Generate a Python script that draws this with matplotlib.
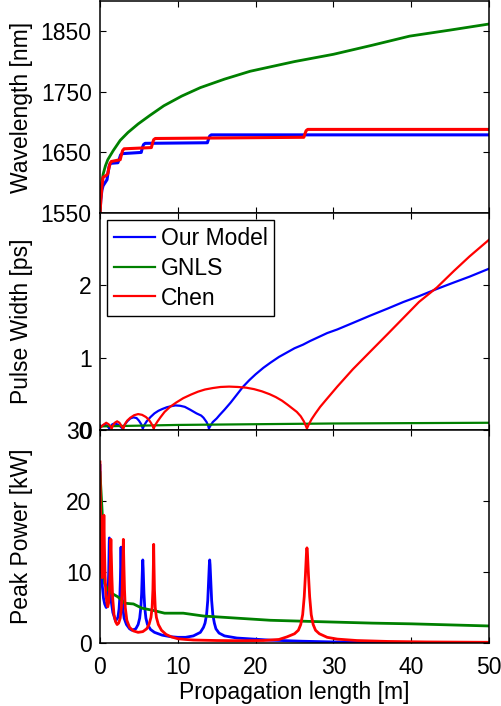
import matplotlib
matplotlib.use('Agg')
import matplotlib.pyplot as plt

plt.rcParams['font.family'] = ['Liberation Sans', 'DejaVu Sans']
plt.rcParams['font.size'] = 16.5

# --- wavelength [nm] vs propagation length [m] ---
z_wl_blue = [0, 0.1, 0.25, 0.4, 0.7, 0.9, 1.05, 1.2, 1.35, 2.3, 2.5, 2.65, 2.85, 5.3, 5.45, 5.6, 5.8,
             13.8, 13.95, 14.1, 14.3, 50]
wl_blue = [1550, 1572, 1588, 1595, 1601, 1605, 1618, 1628, 1632, 1633, 1640, 1646, 1648, 1650, 1658, 1663, 1665,
           1666, 1672, 1677, 1679, 1679]
z_wl_red = [0, 0.1, 0.25, 0.4, 0.8, 1.0, 1.15, 1.3, 1.45, 2.6, 2.75, 2.9, 3.1, 6.6, 6.75, 6.9, 7.1,
            26.2, 26.35, 26.5, 26.7, 50]
wl_red = [1550, 1570, 1595, 1609, 1612, 1615, 1625, 1632, 1635, 1638, 1646, 1653, 1656, 1658, 1665, 1671, 1673,
          1675, 1681, 1686, 1688, 1688]
z_wl_green = [0, 0.1, 0.2, 0.4, 0.7, 1.0, 1.7, 2.6, 3.6, 4.9, 6.4, 8.2, 10.5, 12.9, 16, 19.3, 25, 30, 35,
              39.8, 45, 50]
wl_green = [1550, 1578, 1597, 1614, 1628, 1638, 1653, 1670, 1683, 1697, 1711, 1727, 1743, 1757, 1771, 1784,
            1800, 1812, 1827, 1842, 1852, 1862]

# --- pulse width [ps] ---
z_pw_blue = [0, 0.3, 0.6, 0.9, 1.1, 1.2, 1.35, 1.6, 1.9, 2.3, 2.6, 2.8, 2.95,
             3.15, 3.5, 3.9, 4.3, 4.7, 5.0, 5.3, 5.5,
             5.7, 6.0, 6.5, 7.0, 7.5, 8.0, 8.6, 9.2, 9.7, 10.3, 10.9, 11.6, 12.4, 13.0, 13.3, 13.7, 13.9, 14.0,
             14.2, 14.5, 15.0, 15.4, 16.0, 16.8, 17.6, 18.4, 19.2, 20.0, 21.0, 21.9, 23.0, 24.0, 25.0,
             26.1, 27.0, 28.0, 29.2, 30.5, 32.5, 34.7, 37.0, 39.0, 41.0, 43.3, 45.5, 47.5, 50]
pw_blue = [0.03, 0.06, 0.075, 0.06, 0.035, 0.02, 0.05, 0.08, 0.09, 0.075, 0.05, 0.03, 0.02,
           0.07, 0.12, 0.16, 0.175, 0.165, 0.13, 0.08, 0.02,
           0.07, 0.12, 0.18, 0.23, 0.265, 0.29, 0.315, 0.33, 0.34, 0.335, 0.32, 0.28, 0.23, 0.2, 0.17,
           0.11, 0.06, 0.02,
           0.06, 0.11, 0.16, 0.21, 0.28, 0.38, 0.49, 0.6, 0.69, 0.77, 0.86, 0.93, 1.01, 1.07, 1.13,
           1.18, 1.23, 1.28, 1.34, 1.39, 1.48, 1.58, 1.68, 1.77, 1.85, 1.95, 2.04, 2.12, 2.23]
z_pw_red = [0, 0.4, 0.8, 1.1, 1.35, 1.5, 1.65, 1.9, 2.2, 2.5, 2.75, 2.9, 3.0,
            3.2, 3.5, 3.9, 4.4, 4.9, 5.4, 5.9, 6.3, 6.6, 6.8, 6.9,
            7.1, 7.4, 7.8, 8.3, 9.0, 9.8, 10.7, 11.7, 12.6, 13.5, 14.5, 15.5, 16.6, 17.7, 18.8, 19.8,
            20.8, 21.8, 22.6, 23.4, 24.1, 24.7, 25.3, 25.8, 26.2, 26.45, 26.6,
            26.8, 27.2, 27.7, 28.3, 29.0, 30.5, 32.5, 34.7, 37.0, 39.0, 41.0, 43.3, 45.5, 47.5, 50]
pw_red = [0.03, 0.07, 0.1, 0.08, 0.05, 0.02, 0.06, 0.1, 0.12, 0.1, 0.06, 0.03, 0.02,
          0.08, 0.13, 0.17, 0.205, 0.22, 0.21, 0.18, 0.14, 0.09, 0.05, 0.02,
          0.07, 0.12, 0.18, 0.25, 0.32, 0.38, 0.44, 0.49, 0.53, 0.56, 0.58, 0.595, 0.6, 0.595, 0.585,
          0.565, 0.535, 0.495, 0.455, 0.405, 0.35, 0.3, 0.25, 0.19, 0.12, 0.06, 0.02,
          0.07, 0.15, 0.23, 0.32, 0.41, 0.6, 0.84, 1.08, 1.33, 1.55, 1.77, 1.97, 2.2, 2.4, 2.63]
z_pw_green = [0, 5, 10, 20, 30, 40, 50]
pw_green = [0.05, 0.06, 0.07, 0.08, 0.09, 0.095, 0.1]

# --- peak power [kW] ---
z_pp_blue = [0, 0.05, 0.12, 0.2, 0.3, 0.45, 0.6, 0.8, 0.95, 1.05, 1.12, 1.18, 1.2, 1.22, 1.28, 1.35,
             1.45, 1.65, 2.0, 2.3, 2.45, 2.55, 2.62, 2.68, 2.7, 2.72, 2.78, 2.85, 2.95, 3.1, 3.4, 3.8,
             4.1, 4.6, 4.9, 5.1, 5.25, 5.35, 5.45, 5.5, 5.55, 5.65, 5.75, 5.9, 6.1, 6.5, 7.0, 8.0, 9.0,
             10.0, 11.0, 12.0, 12.9, 13.3, 13.5, 13.7, 13.85, 13.95, 14.05, 14.1, 14.15, 14.25, 14.35,
             14.5, 14.7, 14.9, 15.3, 16.0, 17.6, 21.9, 26.0, 30.0, 35.0, 40.0, 50]
pp_blue = [25, 19, 14, 10.5, 8.0, 6.3, 5.5, 5.0, 5.8, 7.5, 10, 14, 14.8, 14, 10, 7.5,
           5.8, 4.3, 3.1, 3.6, 4.8, 6.5, 9.0, 12.5, 13.5, 12.5, 9.0, 6.5, 4.8, 3.5, 2.6, 2.0,
           1.8, 2.0, 2.6, 3.5, 5.0, 7.0, 10.5, 11.7, 10.5, 7.0, 5.0, 3.5, 2.6, 1.9, 1.5, 1.1, 0.9,
           0.8, 0.8, 1.0, 1.5, 2.2, 2.8, 4.0, 6.0, 8.5, 11.0, 11.7, 11.0, 8.5, 6.0,
           4.0, 2.8, 2.0, 1.4, 1.0, 0.7, 0.4, 0.25, 0.15, 0.1, 0.06, 0.03]
z_pp_red = [0, 0.05, 0.12, 0.2, 0.28, 0.36, 0.43, 0.5, 0.57, 0.65, 0.75, 0.9, 1.0, 1.1, 1.2, 1.28,
            1.35, 1.4, 1.45, 1.52, 1.62, 1.8, 2.0, 2.2, 2.4, 2.6, 2.75, 2.85, 2.93, 3.0, 3.07, 3.15,
            3.25, 3.45, 3.8, 4.3, 4.9, 5.5, 6.0, 6.3, 6.55, 6.7, 6.8, 6.86, 6.9, 6.94, 7.0, 7.1, 7.25,
            7.5, 7.9, 8.5, 9.2, 10.0, 11.0, 12.0, 15.0, 18.0, 21.0, 23.0, 24.0, 25.0, 25.5, 25.8,
            26.05, 26.25, 26.4, 26.55, 26.6, 26.65, 26.8, 26.95, 27.15, 27.4, 27.7, 28.2, 29.2, 30.5,
            33.0, 37.0, 42.0, 50]
pp_red = [25.5, 20, 14, 10.5, 9.2, 10.5, 13.5, 18, 13.5, 9.5, 7, 5.5, 5.1, 5.6, 7, 9.5,
          12.5, 14.6, 12.5, 9.5, 6.5, 4.0, 3.0, 2.6, 2.8, 3.5, 5, 7.5, 11, 14.6, 11, 7.5,
          5, 3.2, 2.2, 1.7, 1.5, 1.6, 2.0, 2.6, 3.6, 5.0, 7.5, 11, 13.9, 11, 7.5, 5.0, 3.6,
          2.6, 1.8, 1.2, 0.85, 0.6, 0.5, 0.42, 0.35, 0.32, 0.35, 0.5, 0.85, 1.3, 1.8, 2.6,
          4.0, 6.5, 9.5, 13.0, 13.4, 13.0, 9.5, 6.5, 4.0, 2.6, 1.8, 1.3, 0.8, 0.55,
          0.35, 0.22, 0.15, 0.1]
z_pp_green = [0, 0.15, 0.3, 0.4, 0.6, 1.0, 1.5, 2.3, 3.2, 4.3, 5.4, 6.8, 8.3, 10.7, 13.3, 17.6, 21.9,
              28.3, 35, 40, 45, 50]
pp_green = [24, 21, 18, 13, 8.4, 7.5, 7.0, 6.5, 5.6, 5.5, 4.9, 4.6, 4.2, 4.2, 3.8, 3.5, 3.2, 3.0, 2.8,
            2.7, 2.55, 2.4]

labels = ['Our Model', 'GNLS', 'Chen']
colors = ['#0000ff', '#008000', '#ff0000']

fig = plt.figure(figsize=(5.02, 7.06), dpi=100)
left, width = 100 / 502, 389 / 502
ax1 = fig.add_axes([left, 1 - 213 / 706, width, 212 / 706])
ax2 = fig.add_axes([left, 1 - 430 / 706, width, 217 / 706])
ax3 = fig.add_axes([left, 1 - 643 / 706, width, 213 / 706])

# top: wavelength
ax1.plot(z_wl_blue, wl_blue, color=colors[0], lw=2.2)
ax1.plot(z_wl_green, wl_green, color=colors[1], lw=2.0)
ax1.plot(z_wl_red, wl_red, color=colors[2], lw=2.2)
ax1.set_ylim(1550, 1900)
ax1.set_yticks([1550, 1650, 1750, 1850])
ax1.set_ylabel('Wavelength [nm]')

# middle: pulse width
ax2.plot(z_pw_blue, pw_blue, color=colors[0], lw=1.6, label=labels[0])
ax2.plot(z_pw_green, pw_green, color=colors[1], lw=1.6, label=labels[1])
ax2.plot(z_pw_red, pw_red, color=colors[2], lw=1.6, label=labels[2])
ax2.set_ylim(0, 3)
ax2.set_yticks([0, 1, 2])
ax2.set_ylabel('Pulse Width [ps]')
leg = ax2.legend(loc='upper left', fancybox=False, framealpha=1, edgecolor='black',
                 borderaxespad=0.3, handlelength=1.8, handletextpad=0.25, labelspacing=0.3,
                 borderpad=0.3, fontsize=16.5)
leg.get_frame().set_linewidth(1.0)

# bottom: peak power
ax3.plot(z_pp_blue, pp_blue, color=colors[0], lw=2.0)
ax3.plot(z_pp_green, pp_green, color=colors[1], lw=2.0)
ax3.plot(z_pp_red, pp_red, color=colors[2], lw=2.0)
ax3.set_ylim(0, 30)
ax3.set_yticks([0, 10, 20, 30])
ax3.set_ylabel('Peak Power [kW]')
ax3.set_xlabel('Propagation length [m]', labelpad=2)

for ax in [ax1, ax2, ax3]:
    ax.set_xlim(0, 50)
    ax.set_xticks([0, 10, 20, 30, 40, 50])
    ax.tick_params(direction='in', top=True, right=True, length=4, width=0.8, labelsize=16.5, pad=6)
    ax.tick_params(axis='x', pad=9)
    for s in ax.spines.values():
        s.set_linewidth(1.1)
    ax.yaxis.set_label_coords(-0.172, 0.5)
for ax in [ax1, ax2]:
    ax.tick_params(labelbottom=False)

fig.savefig('out.png', dpi=100)
